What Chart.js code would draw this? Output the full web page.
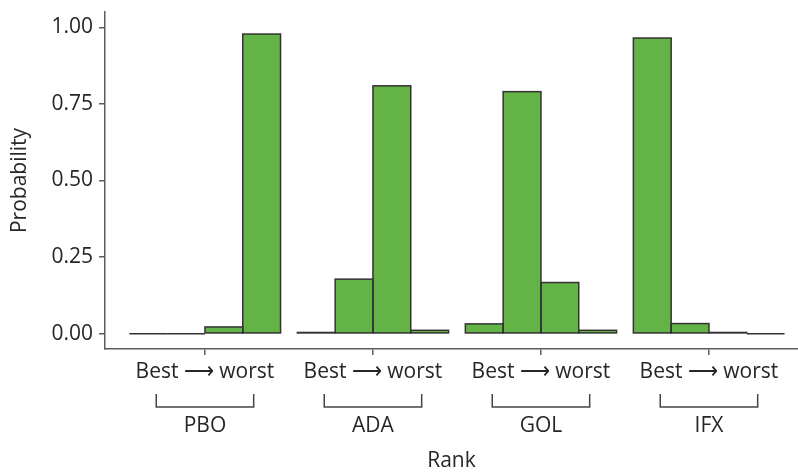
<!DOCTYPE html>
<html>
<head>
<meta charset="utf-8">
<script src="https://cdn.jsdelivr.net/npm/chart.js@4/dist/chart.umd.min.js"></script>
<style>
  html, body { margin: 0; padding: 0; background: #fff; overflow: hidden; }
  #wrap { width: 798px; height: 472px; position: relative; }
</style>
</head>
<body>
<div id="wrap"><canvas id="chart"></canvas></div>
<script>
// probabilidade de cada rank por tratamento
const groups = ['PBO', 'ADA', 'GOL', 'IFX'];
const rank1 = [0.000, 0.004, 0.032, 0.965];
const rank2 = [0.000, 0.178, 0.790, 0.033];
const rank3 = [0.022, 0.809, 0.167, 0.004];
const rank4 = [0.978, 0.011, 0.011, 0.000];
const yTicks = [0, 0.25, 0.5, 0.75, 1];
const rankLabel = 'Best \u27F6 worst';

const FILL = '#64b346';
const EDGE = '#333333';
const AXIS = '#5c5c5c';
const TEXT = '#262626';
const FONT = "'Open Sans', sans-serif";

Chart.defaults.font.family = FONT;
Chart.defaults.color = TEXT;

const toPoints = (arr) => arr.map((v, i) => ({ x: i + 1, y: v }));

// contorno das barras desenhado a mao pra aparecer ate nas barras zeradas
const barOutline = {
  id: 'barOutline',
  afterDatasetsDraw(chart) {
    const ctx = chart.ctx;
    ctx.save();
    ctx.strokeStyle = EDGE;
    ctx.lineWidth = 1.5;
    chart.data.datasets.forEach((_, di) => {
      chart.getDatasetMeta(di).data.forEach((bar) => {
        const { x, y, base, width } = bar.getProps(['x', 'y', 'base', 'width'], true);
        ctx.strokeRect(x - width / 2, Math.min(y, base), width, Math.abs(base - y));
      });
    });
    ctx.restore();
  },
};

// colchetes embaixo de "Best -> worst"
const brackets = {
  id: 'brackets',
  afterDraw(chart) {
    const xs = chart.scales.x;
    const ctx = chart.ctx;
    const yBot = xs.top + 58;
    const yTop = yBot - 13;
    ctx.save();
    ctx.strokeStyle = '#444';
    ctx.lineWidth = 1.5;
    groups.forEach((_, i) => {
      const l = xs.getPixelForValue(i + 1 - 0.29);
      const r = xs.getPixelForValue(i + 1 + 0.29);
      ctx.beginPath();
      ctx.moveTo(l, yTop);
      ctx.lineTo(l, yBot);
      ctx.lineTo(r, yBot);
      ctx.lineTo(r, yTop);
      ctx.stroke();
    });
    ctx.restore();
  },
};

const ds = (data) => ({
  data: toPoints(data),
  backgroundColor: FILL,
  borderWidth: 0,
  categoryPercentage: 0.9,
  barPercentage: 1.0,
});

new Chart(document.getElementById('chart'), {
  type: 'bar',
  data: { datasets: [ds(rank1), ds(rank2), ds(rank3), ds(rank4)] },
  plugins: [barOutline, brackets],
  options: {
    responsive: true,
    maintainAspectRatio: false,
    animation: false,
    layout: { padding: { top: 12, left: 0, right: 0, bottom: 0 } },
    plugins: { legend: { display: false }, tooltip: { enabled: false } },
    scales: {
      x: {
        type: 'linear',
        offset: false,
        min: 0.405,
        max: 4.53,
        afterBuildTicks: (s) => { s.ticks = groups.map((_, i) => ({ value: i + 1 })); },
        afterFit: (s) => { s.height = 123; s.paddingLeft = 0; s.paddingRight = 0; },
        ticks: {
          color: TEXT,
          padding: 4,
          maxRotation: 0,
          autoSkip: false,
          font: { size: 21, lineHeight: '27px' },
          callback: (v) => [rankLabel, '', groups[v - 1]],
        },
        grid: { offset: false, drawOnChartArea: false, drawTicks: true, tickLength: 6, color: AXIS, lineWidth: 1.5 },
        border: { display: true, color: AXIS, width: 1.5 },
        title: {
          display: true,
          text: 'Rank',
          color: TEXT,
          font: { size: 21, lineHeight: 1 },
          padding: { top: 0, bottom: 0 },
        },
      },
      y: {
        min: -0.05,
        max: 1.05,
        afterBuildTicks: (s) => { s.ticks = yTicks.map((v) => ({ value: v })); },
        afterFit: (s) => { s.width = 105; s.paddingTop = 0; s.paddingBottom = 0; },
        ticks: {
          color: TEXT,
          padding: 6,
          font: { size: 21 },
          callback: (v) => Number(v).toFixed(2),
        },
        grid: { drawOnChartArea: false, drawTicks: true, tickLength: 6, color: AXIS, lineWidth: 1.5 },
        border: { display: true, color: AXIS, width: 1.5 },
        title: {
          display: true,
          text: 'Probability',
          color: TEXT,
          font: { size: 21, lineHeight: 1.2 },
          padding: { top: 7, bottom: 0 },
        },
      },
    },
  },
});
</script>
</body>
</html>
